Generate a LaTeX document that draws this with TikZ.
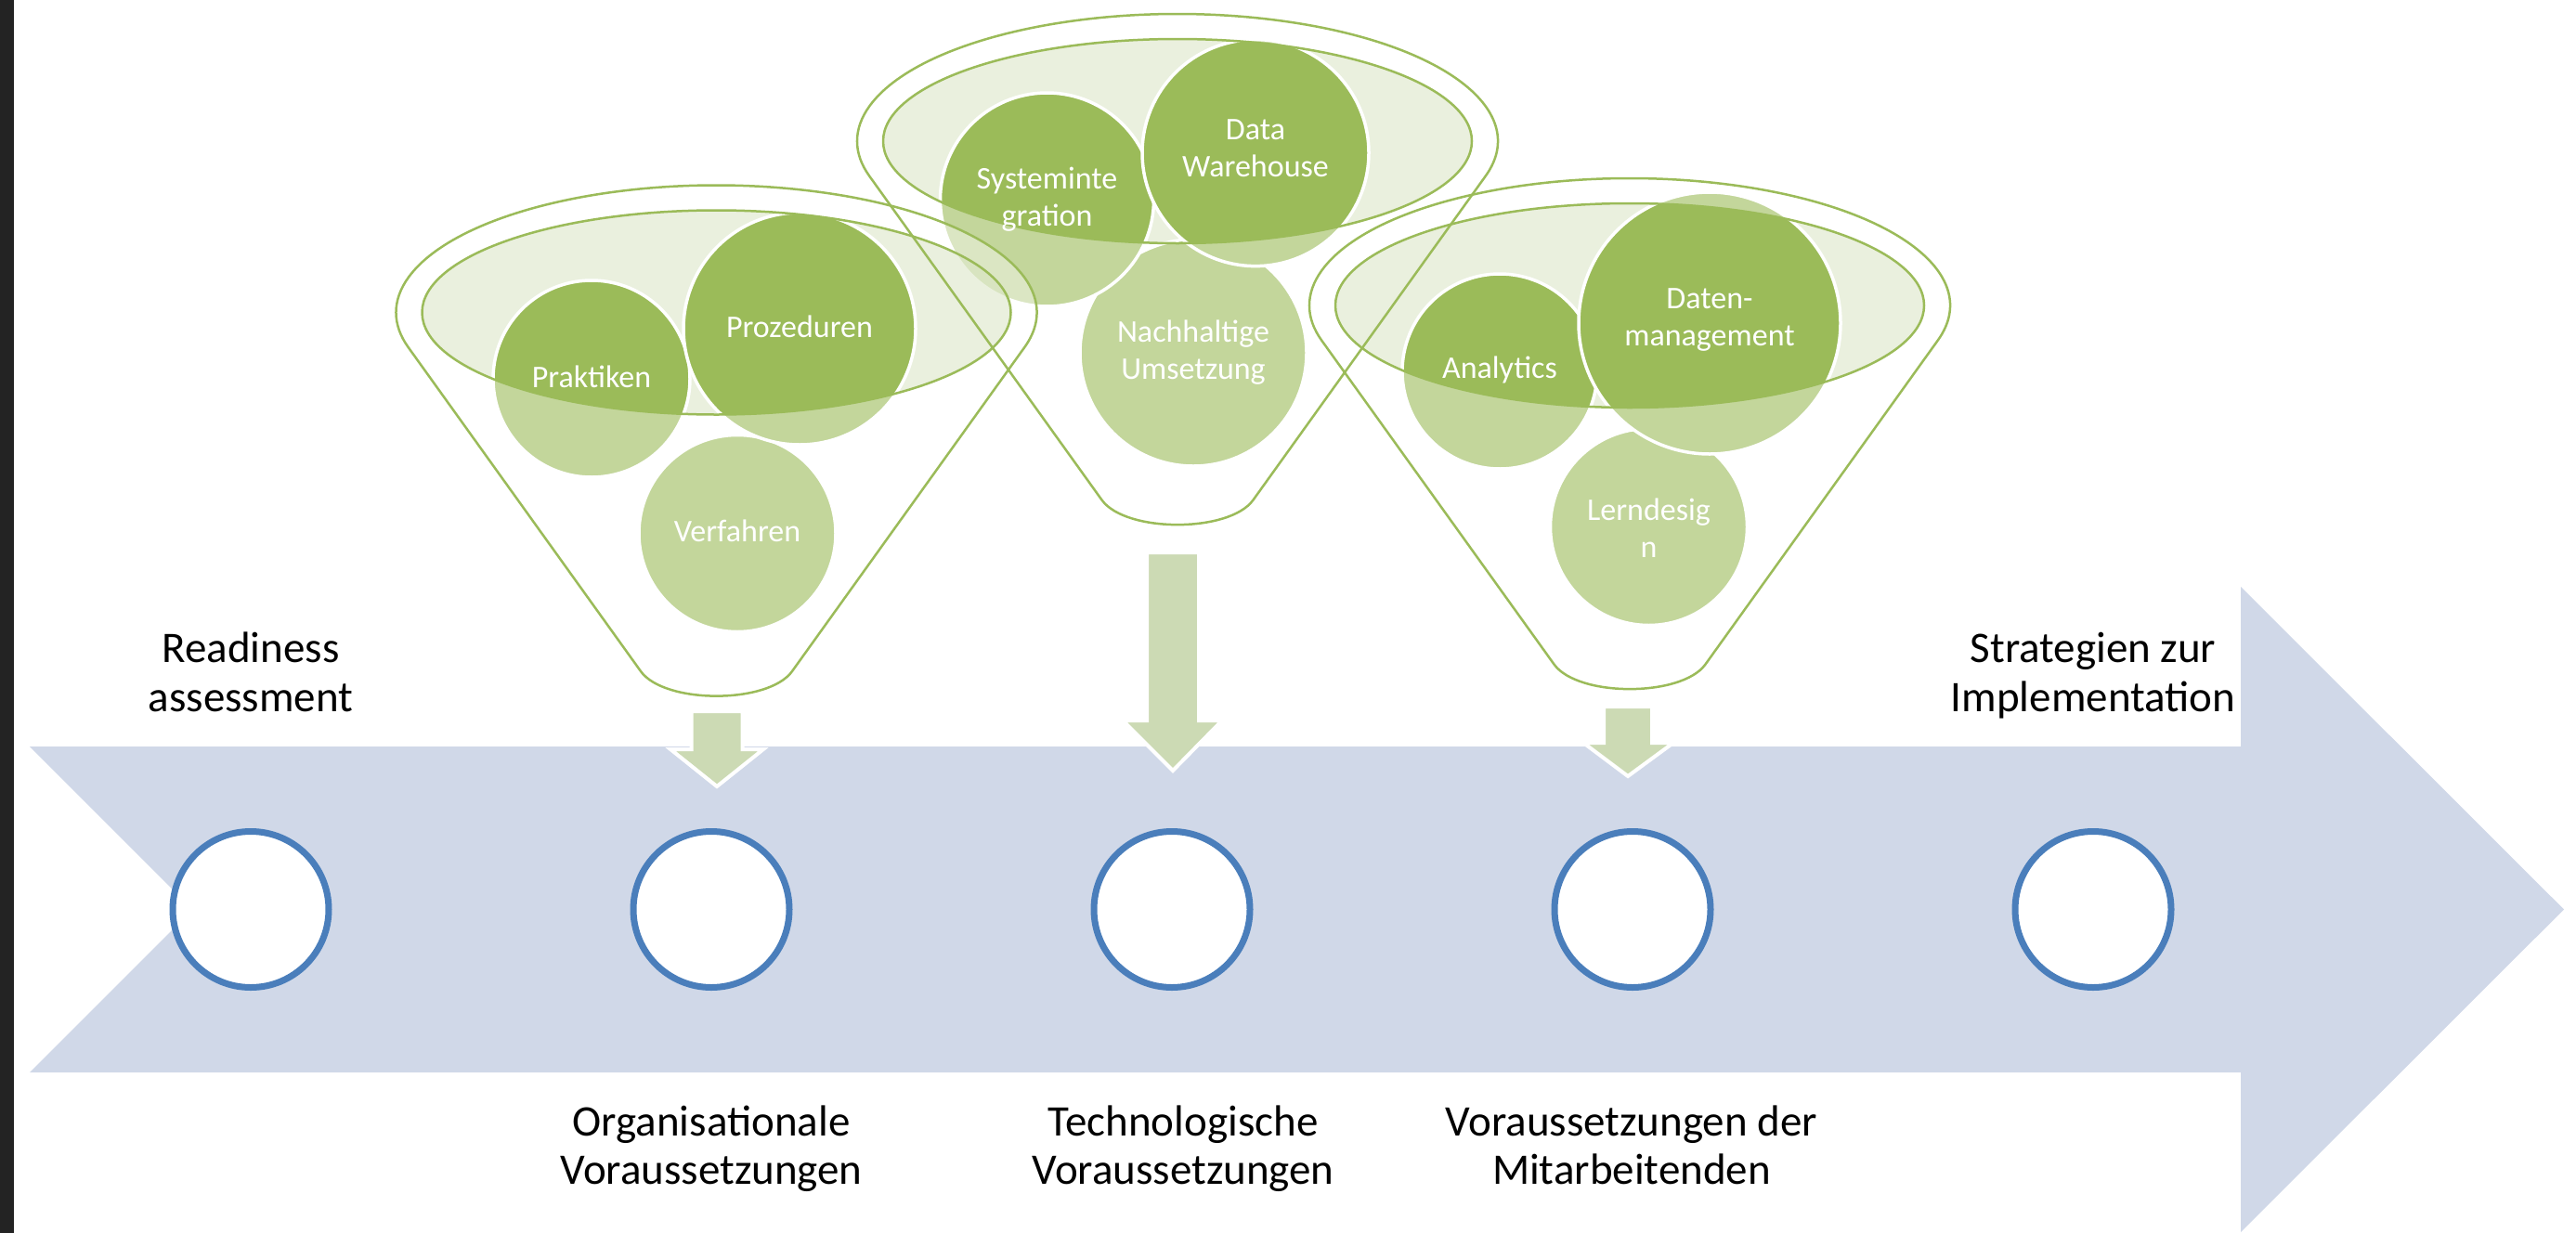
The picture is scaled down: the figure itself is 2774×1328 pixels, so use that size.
\documentclass[tikz,border=0pt]{standalone}
\usepackage{fontspec}
\setmainfont{Carlito}
\definecolor{gdark}{HTML}{9BBB59}
\definecolor{gell}{HTML}{E2EBD0}
\definecolor{garrow}{HTML}{CCDAB4}
\definecolor{bfill}{HTML}{D0D8E8}
\definecolor{bline}{HTML}{4A7EBB}
\definecolor{stripc}{HTML}{232323}
\tikzset{
  lbl/.style={font=\fontsize{47}{52}\selectfont, text=black, inner sep=0pt, anchor=base},
  ctext/.style={font=\fontsize{34}{40}\selectfont, text=white, align=center, inner sep=0pt},
  gcirc/.style={fill=gdark, draw=white, line width=3.5pt},
  stepdot/.style={circle, fill=white, draw=bline, line width=7pt, minimum size=168pt, inner sep=0pt},
  downarrow/.style={fill=garrow, draw=white, line width=4pt, line join=miter},
  funline/.style={draw=gdark, line width=2.5pt},
  ellfill/.style={fill=gell, fill opacity=0.7},
  bodyfill/.style={fill=white, fill opacity=0.4, even odd rule},
}
% outer funnel outline: #1 = centre x, #2 = top y
\newcommand\fpath[2]{(#1+331.6,#2+174.8) arc[start angle=16, end angle=-196, x radius=345pt, y radius=137pt] -- (#1-81.5,#2+523.5) .. controls (#1-56,#2+559) and (#1+56,#2+559) .. (#1+81.5,#2+523.5) -- cycle}
\newcommand\fell[2]{(#1,#2+137) ellipse[x radius=317pt, y radius=110pt]}
\begin{document}
\begin{tikzpicture}[x=1pt, y=1pt, yscale=-1]
\useasboundingbox (0,0) rectangle (2774,1328);
\fill[white] (0,0) rectangle (2774,1328);
\fill[stripc] (0,0) rectangle (15,1328);

% big notched arrow
\fill[bfill] (32,804) -- (2413,804) -- (2413,632) -- (2761,979.5) -- (2413,1327) -- (2413,1155) -- (32,1155) -- (207.5,979.5) -- cycle;

% step circles
\node[stepdot] (s1) at (270,979.5) {};
\node[stepdot] (s2) at (766,979.5) {};
\node[stepdot] (s3) at (1262,979.5) {};
\node[stepdot] (s4) at (1758,979.5) {};
\node[stepdot] (s5) at (2254,979.5) {};

% ---- funnel 2 (back) ----
\fill[ellfill] \fell{1268}{15};
\path[gcirc] (1285,380) circle[radius=122pt];
\path[gcirc] (1127.5,215) circle[radius=115pt];
\path[gcirc] (1352,164.6) circle[radius=122pt];
\path[bodyfill] \fpath{1268}{15} \fell{1268}{15};

% ---- funnel 1 ----
\fill[ellfill] \fell{771.5}{199.5};
\path[gcirc] (794,574.5) circle[radius=106pt];
\path[gcirc] (637,408) circle[radius=106pt];
\path[gcirc] (861,354) circle[radius=125pt];
\path[bodyfill] \fpath{771.5}{199.5} \fell{771.5}{199.5};

% ---- funnel 3 ----
\fill[ellfill] \fell{1755}{192};
\path[gcirc] (1775.5,567.5) circle[radius=106pt];
\path[gcirc] (1615,400) circle[radius=105pt];
\path[gcirc] (1841,348) circle[radius=141pt];
\path[bodyfill] \fpath{1755}{192} \fell{1755}{192};

% outlines
\draw[funline] \fell{1268}{15};
\draw[funline] \fpath{1268}{15};
\draw[funline] \fell{771.5}{199.5};
\draw[funline] \fpath{771.5}{199.5};
\draw[funline] \fell{1755}{192};
\draw[funline] \fpath{1755}{192};

% circle texts
\node[ctext] (t11) at (637,406) {Praktiken};
\node[ctext] (t12) at (861,352) {Prozeduren};
\node[ctext] (t13) at (794,572) {Verfahren};
\node[ctext] (t21) at (1127.5,215) {Systeminte\\gration};
\node[ctext] (t22) at (1352,160) {Data\\Warehouse};
\node[ctext] (t23) at (1285,380) {Nachhaltige\\Umsetzung};
\node[ctext] (t31) at (1615,398) {Analytics};
\node[ctext] (t32) at (1841,345) {Daten-\\management};
\node[ctext] (t33) at (1775.5,569) {Lerndesig\\n};

% down arrows
\draw[downarrow] (744.5,766) -- (799.5,766) -- (799.5,807) -- (822,807) -- (772,847) -- (722,807) -- (744.5,807) -- cycle;
\draw[downarrow] (1235,595) -- (1291,595) -- (1291,776) -- (1316,776) -- (1263,830) -- (1209,776) -- (1235,776) -- cycle;
\draw[downarrow] (1727,761) -- (1779,761) -- (1779,800) -- (1802,800) -- (1753,836) -- (1705,800) -- (1727,800) -- cycle;

% labels
\node[lbl] (ra) at (270,713) {Readiness};
\node[lbl] (rb) at (270,766) {assessment};
\node[lbl] (sa) at (2254,713) {Strategien zur};
\node[lbl] (sb) at (2254,766) {Implementation};
\node[lbl] (oa) at (766,1223) {Organisationale};
\node[lbl] (ob) at (766,1275) {Voraussetzungen};
\node[lbl] (ta) at (1274,1223) {Technologische};
\node[lbl] (tb) at (1274,1275) {Voraussetzungen};
\node[lbl] (ma) at (1757,1223) {Voraussetzungen der};
\node[lbl] (mb) at (1757,1275) {Mitarbeitenden};
\end{tikzpicture}
\end{document}
